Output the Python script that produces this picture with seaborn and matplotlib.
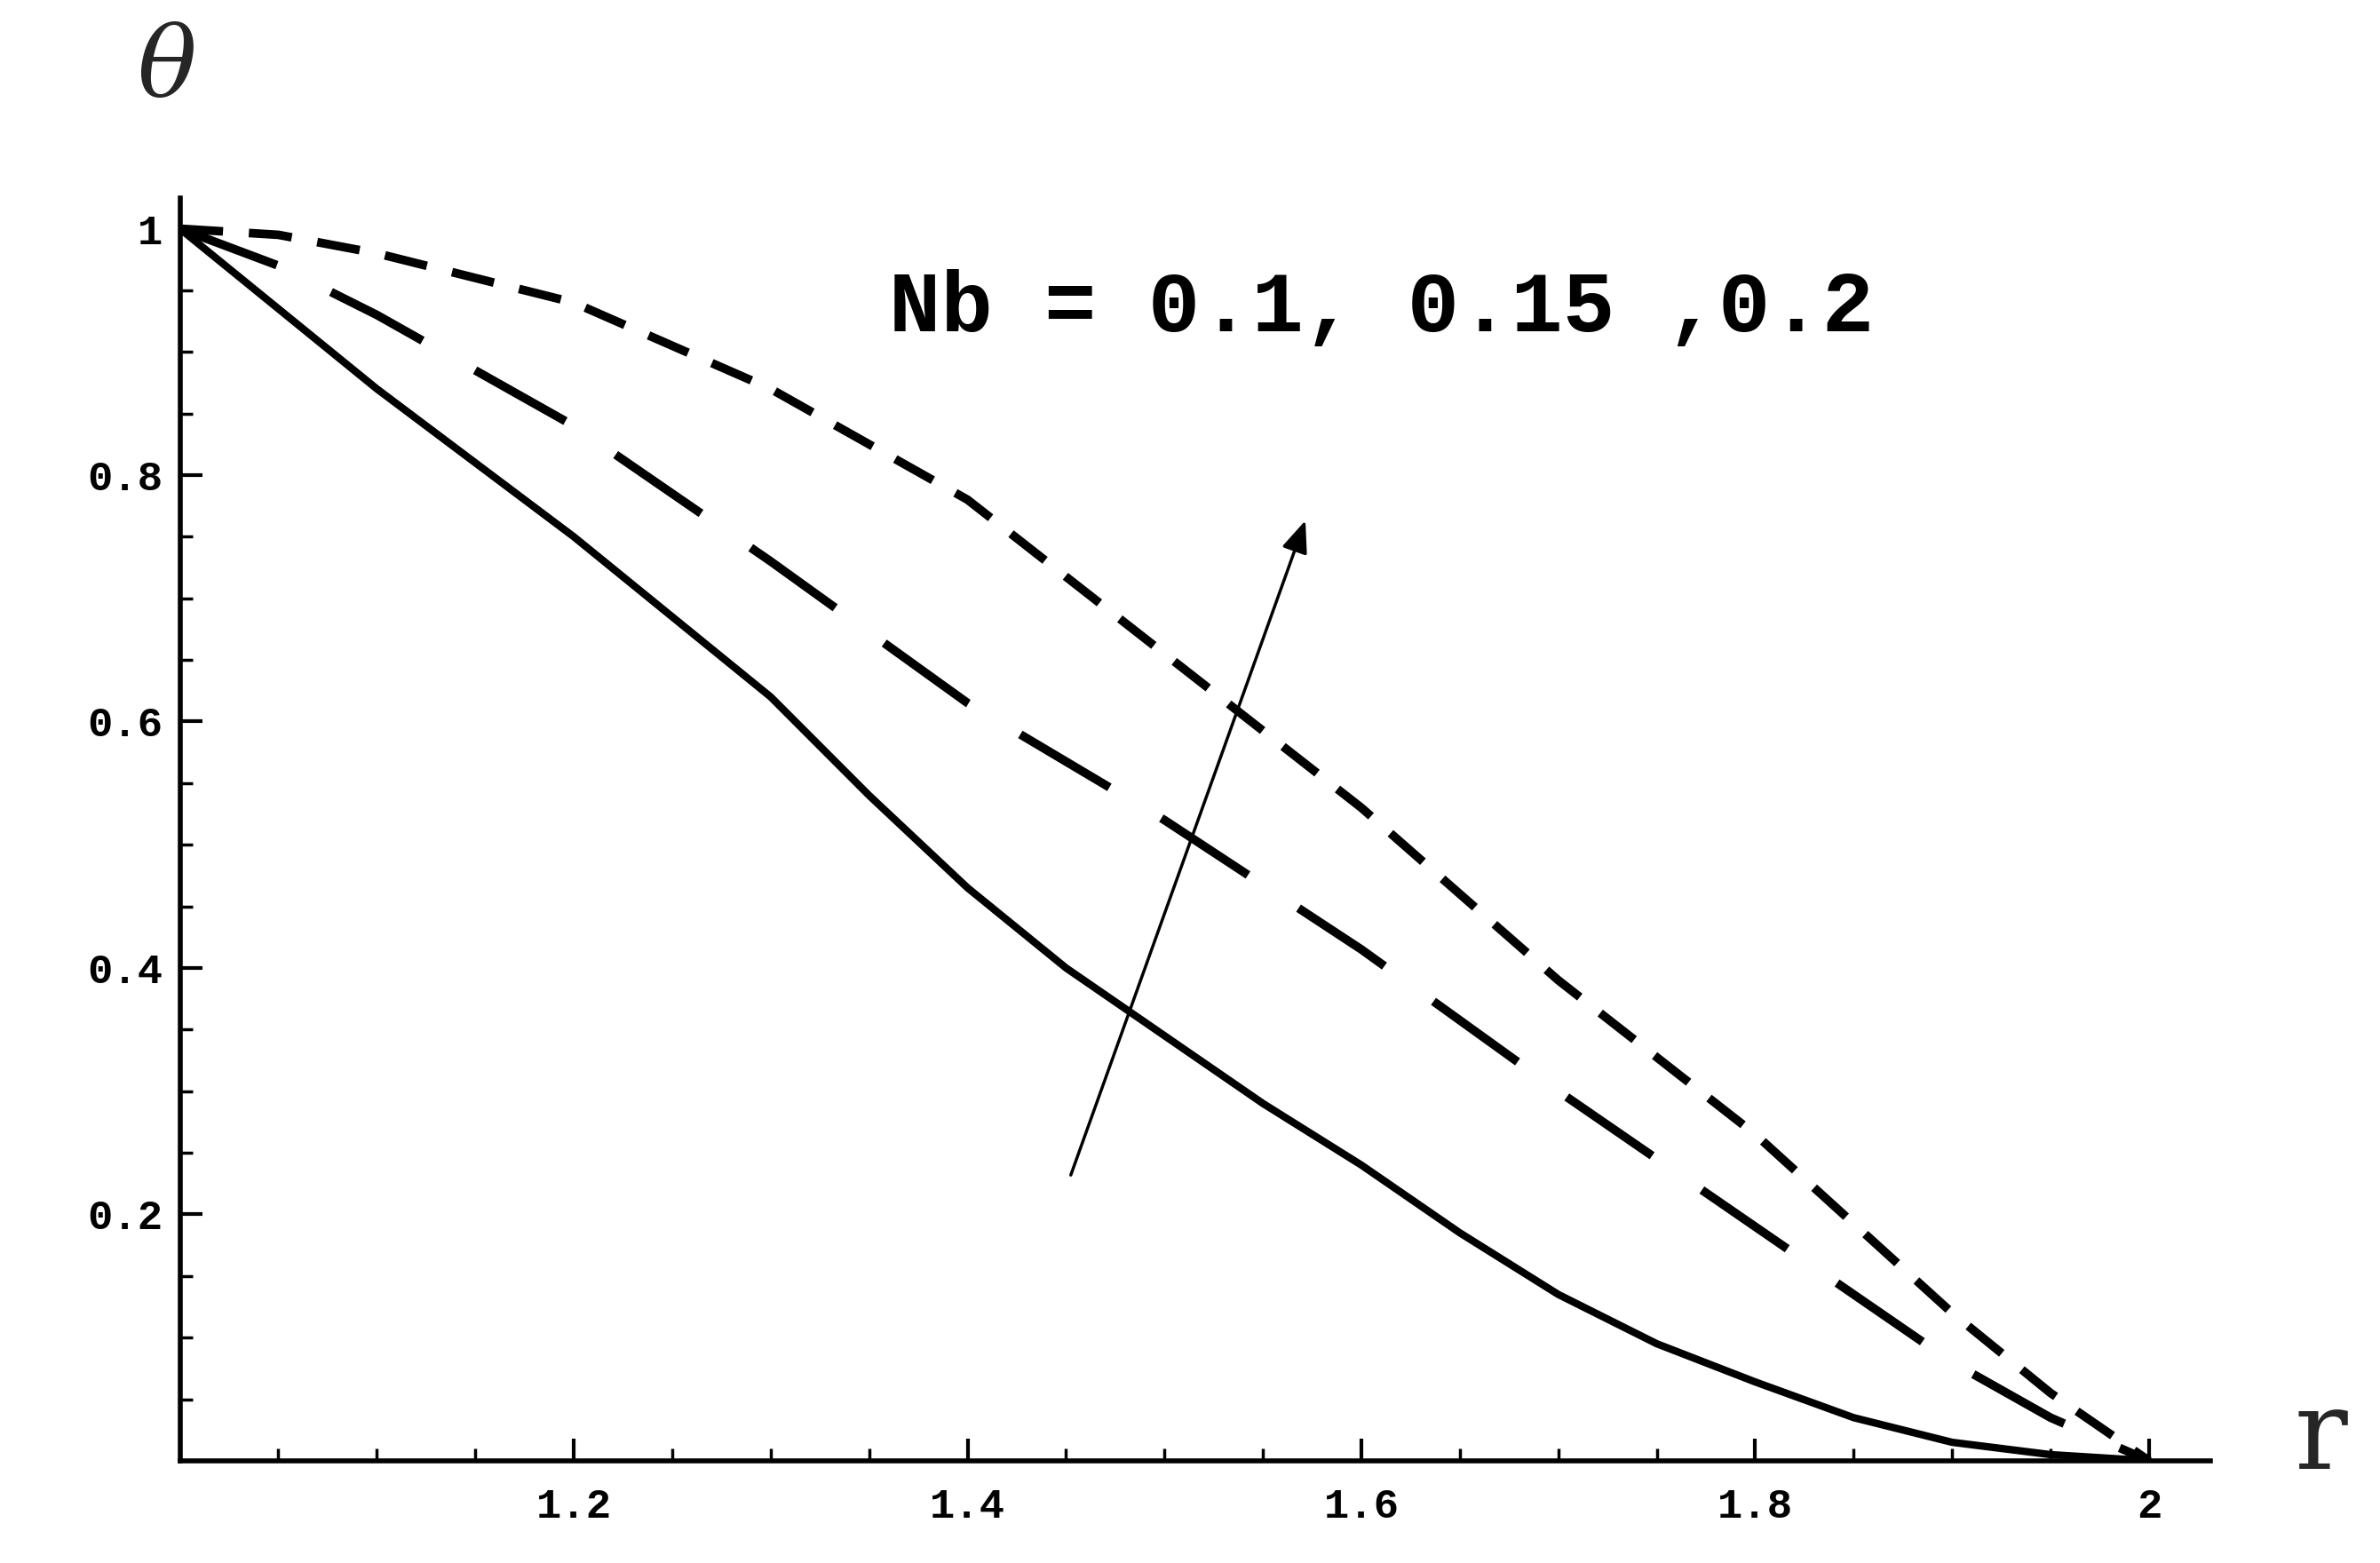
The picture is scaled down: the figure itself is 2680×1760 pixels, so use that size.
import matplotlib
matplotlib.use("Agg")
import matplotlib.pyplot as plt
import seaborn as sns
import numpy as np
import pandas as pd

r_solid = [1.0, 1.05, 1.1, 1.15, 1.2, 1.25, 1.3, 1.35, 1.4, 1.45, 1.5, 1.55, 1.6, 1.65, 1.7, 1.75, 1.8, 1.85, 1.9, 1.95, 2.0]
th_solid = [1.0, 0.935, 0.87, 0.81, 0.75, 0.685, 0.62, 0.54, 0.465, 0.40, 0.345, 0.29, 0.24, 0.185, 0.135, 0.095, 0.064, 0.035, 0.015, 0.005, 0.0]
r_mid = [1.0, 1.05, 1.1, 1.2, 1.3, 1.4, 1.5, 1.6, 1.7, 1.8, 1.85, 1.9, 1.95, 2.0]
th_mid = [1.0, 0.97, 0.93, 0.84, 0.73, 0.615, 0.52, 0.415, 0.30, 0.19, 0.135, 0.08, 0.035, 0.0]
r_top = [1.0, 1.05, 1.1, 1.2, 1.3, 1.4, 1.5, 1.6, 1.7, 1.8, 1.9, 1.95, 2.0]
th_top = [1.0, 0.995, 0.98, 0.94, 0.87, 0.78, 0.655, 0.53, 0.39, 0.265, 0.12, 0.055, 0.0]
xticks = [1.2, 1.4, 1.6, 1.8, 2.0]
xticklabels = ["1.2", "1.4", "1.6", "1.8", "2"]
yticks = [0.2, 0.4, 0.6, 0.8, 1.0]
yticklabels = ["0.2", "0.4", "0.6", "0.8", "1"]

sns.set_style("white")
fig = plt.figure(figsize=(26.8, 17.6), dpi=100)
ax = fig.add_axes([0.0756, 0.0654, 0.853, 0.808])

sns.lineplot(x=r_solid, y=th_solid, ax=ax, color="black", lw=6)
l2 = sns.lineplot(x=r_mid, y=th_mid, ax=ax, color="black", lw=7).lines[-1]
l2.set_dashes([12, 7])
l3 = sns.lineplot(x=r_top, y=th_top, ax=ax, color="black", lw=7).lines[-1]
l3.set_dashes([5, 3])

ax.set_xlim(1.0, 2.031)
ax.set_ylim(0, 1.025)
for s in ["top", "right"]:
    ax.spines[s].set_visible(False)
for s in ["left", "bottom"]:
    ax.spines[s].set_linewidth(4)
    ax.spines[s].set_color("black")
ax.set_xticks(xticks)
ax.set_xticklabels(xticklabels)
ax.set_yticks(yticks)
ax.set_yticklabels(yticklabels)
ax.set_xticks(np.arange(1.05, 2.0, 0.05), minor=True)
ax.set_yticks(np.arange(0.05, 1.0, 0.05), minor=True)
ax.tick_params(which="both", bottom=True, left=True, colors="black")
ax.tick_params(which="major", direction="in", length=18, width=3, pad=22)
ax.tick_params(which="minor", direction="in", length=10, width=2.5)
for lab in ax.get_xticklabels() + ax.get_yticklabels():
    lab.set_family("Liberation Mono")
    lab.set_fontweight("bold")
    lab.set_fontsize(34)
    lab.set_color("black")
ax.tick_params(axis="y", pad=14)

ax.annotate("", xy=(1.572, 0.765), xytext=(1.452, 0.23),
            arrowprops=dict(arrowstyle="-|>,head_length=2.2,head_width=0.9",
                            color="black", lw=2.5))
ax.text(1.36, 0.935, "Nb = 0.1, 0.15 ,0.2", family="Liberation Mono",
        fontweight="bold", fontsize=70, ha="left", va="center", color="black")
fig.text(0.07, 0.955, "θ", fontsize=80, family="DejaVu Serif", style="italic",
         ha="center", va="center")
fig.text(0.975, 0.08, "r", fontsize=90, family="DejaVu Serif",
         ha="center", va="center")
fig.savefig("out.png", dpi=100, facecolor="white")
